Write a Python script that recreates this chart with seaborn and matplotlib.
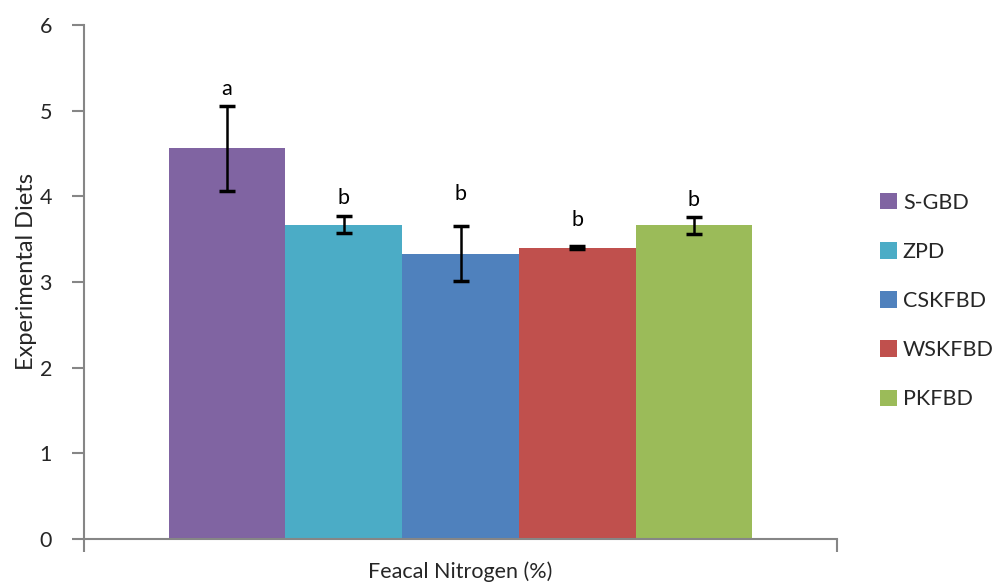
import matplotlib
matplotlib.use("Agg")
import matplotlib.pyplot as plt
import seaborn as sns
import pandas as pd

# Faecal nitrogen (%) by experimental diet
diets = ["S-GBD", "ZPD", "CSKFBD", "WSKFBD", "PKFBD"]
nitrogen = [4.56, 3.67, 3.33, 3.40, 3.66]
errors = [0.50, 0.10, 0.32, 0.02, 0.10]
letters = ["a", "b", "b", "b", "b"]
letter_heights = [5.25, 3.98, 4.03, 3.72, 3.96]
colors = ["#8064A2", "#4BACC6", "#4F81BD", "#C0504D", "#9BBB59"]
category = "Feacal Nitrogen (%)"
yticks = [0, 1, 2, 3, 4, 5, 6]

df = pd.DataFrame({"measure": [category] * len(diets), "diet": diets, "value": nitrogen})

sns.set_theme(style="white")
plt.rcParams["font.family"] = ["Lato", "DejaVu Sans"]

fig = plt.figure(figsize=(9.97, 5.83), dpi=100)
ax = fig.add_axes([84 / 997, 1 - 539 / 583, (837 - 84) / 997, (539 - 25) / 583])

sns.barplot(data=df, x="measure", y="value", hue="diet", hue_order=diets,
            palette=colors, width=0.775, errorbar=None, saturation=1,
            linewidth=0, ax=ax, legend=True)

# error bars and significance letters at the bar centres
bars = [p for p in ax.patches if p.get_height() > 0][:len(diets)]
bars.sort(key=lambda p: p.get_x())
for bar, val, err, let, lh in zip(bars, nitrogen, errors, letters, letter_heights):
    cx = bar.get_x() + bar.get_width() / 2
    ax.errorbar(cx, val, yerr=err, fmt="none", ecolor="black", elinewidth=1.8,
                capsize=6, capthick=2.5, zorder=5)
    ax.text(cx, lh, let, ha="center", va="center", fontsize=15.5, color="black")

ax.set_ylim(0, 6)
ax.set_yticks(yticks)
ax.set_yticklabels([str(t) for t in yticks], fontsize=15.5)
ax.set_xlim(-0.5, 0.5)
ax.set_xticks([-0.5, 0.5])
ax.set_xticklabels(["", ""])
ax.tick_params(axis="both", direction="out", length=9, width=1.5, color="#868686",
               left=True, bottom=True)
ax.tick_params(axis="y", pad=14)

for side in ["top", "right"]:
    ax.spines[side].set_visible(False)
for side in ["left", "bottom"]:
    ax.spines[side].set_color("#868686")
    ax.spines[side].set_linewidth(1.5)

ax.set_ylabel("Experimental Diets", fontsize=17)
ax.yaxis.set_label_coords(-0.063, 0.52)
ax.set_xlabel(category, fontsize=15.5)
ax.xaxis.set_label_coords(0.5, -0.044)

handles, labels = ax.get_legend_handles_labels()
ax.legend(handles, labels, loc="center left", bbox_to_anchor=(880 / 997, 1 - 301 / 583),
          bbox_transform=fig.transFigure, frameon=False, fontsize=15.5,
          handlelength=0.78, handleheight=0.78, handletextpad=0.28,
          labelspacing=1.35, borderpad=0, borderaxespad=0)

fig.savefig("out.png", dpi=100)
